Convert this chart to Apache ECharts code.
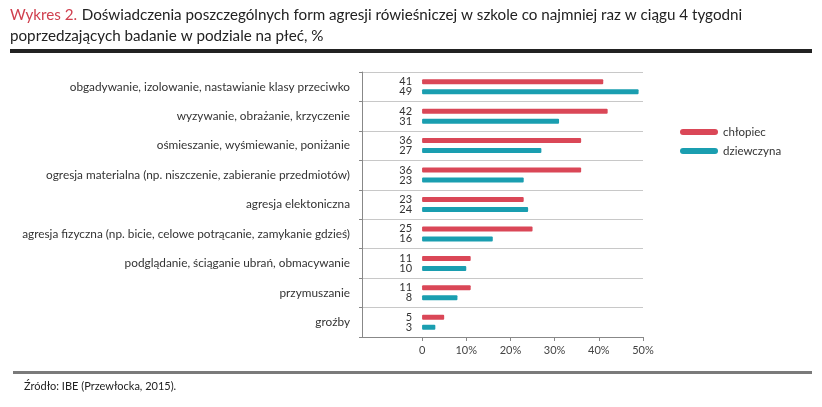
<!DOCTYPE html>
<html>
<head>
<meta charset="utf-8">
<script src="https://cdn.jsdelivr.net/npm/echarts@6/dist/echarts.min.js"></script>
<style>
  html, body { margin: 0; padding: 0; background: #fff; }
  #chart { width: 822px; height: 407px; }
</style>
</head>
<body>
<div id="chart"></div>
<script>
// data
const categories = [
    "obgadywanie, izolowanie, nastawianie klasy przeciwko",
    "wyzywanie, obrażanie, krzyczenie",
    "ośmieszanie, wyśmiewanie, poniżanie",
    "ogresja materialna (np. niszczenie, zabieranie przedmiotów)",
    "agresja elektoniczna",
    "agresja fizyczna (np. bicie, celowe potrącanie, zamykanie gdzieś)",
    "podglądanie, ściąganie ubrań, obmacywanie",
    "przymuszanie",
    "groźby"
];
const chlopiec = [41, 42, 36, 36, 23, 25, 11, 11, 5];
const dziewczyna = [49, 31, 27, 23, 24, 16, 10, 8, 3];
const xTicks = [0, 10, 20, 30, 40, 50];

const FONT = "Lato, 'Noto Sans', sans-serif";
const RED = "#da4757";
const TEAL = "#1a9eb0";
const legendIcon = "path://M3,0 L35,0 A3,3 0 0 1 35,6 L3,6 A3,3 0 0 1 3,0 Z";

let chart = echarts.init(document.getElementById("chart"));

function barSeries(name, data, color) {
    return {
        name: name,
        type: "bar",
        data: data,
        barWidth: 5,
        barGap: "100%",
        itemStyle: { color: color, borderRadius: 1 },
        label: {
            show: true,
            position: "left",
            distance: 10,
            color: "#333",
            fontSize: 11,
            fontFamily: FONT
        }
    };
}

chart.setOption({
    animation: false,
    backgroundColor: "#fff",
    title: {
        left: 5,
        top: 0,
        text: "{r|Wykres 2.} {d|Doświadczenia poszczególnych form agresji rówieśniczej w szkole co najmniej raz w ciągu 4 tygodni}\n{d|poprzedzających badanie w podziale na płeć, %}",
        textStyle: {
            fontFamily: FONT,
            fontWeight: "normal",
            rich: {
                r: { color: "#d0404f", fontSize: 15.2, fontFamily: FONT, lineHeight: 21 },
                d: { color: "#222", fontSize: 15.2, fontFamily: FONT, lineHeight: 21 }
            }
        }
    },
    graphic: [
        { type: "rect", shape: { x: 10, y: 49, width: 802, height: 4 }, style: { fill: "#222" } },
        { type: "rect", shape: { x: 13, y: 371, width: 799, height: 3 }, style: { fill: "#7a7a7a" } },
        {
            type: "text", left: 24, top: 381,
            style: { text: "Źródło: IBE (Przewłocka, 2015).", fill: "#222", fontSize: 11, fontFamily: FONT }
        }
    ],
    legend: {
        orient: "vertical",
        left: 675,
        top: 121,
        itemWidth: 38,
        itemHeight: 6,
        itemGap: 7,
        icon: legendIcon,
        textStyle: { color: "#333", fontSize: 11.5, fontFamily: FONT },
        data: ["chłopiec", "dziewczyna"]
    },
    grid: { left: 362, top: 72, right: 179, bottom: 70, containLabel: false },
    xAxis: {
        type: "value",
        min: -13.6,
        max: 50,
        axisLine: { show: true, lineStyle: { color: "#888", width: 1 } },
        axisTick: { show: true, length: 4, customValues: xTicks, lineStyle: { color: "#888" } },
        axisLabel: {
            customValues: xTicks,
            color: "#444",
            fontSize: 11,
            fontFamily: FONT,
            margin: 8,
            formatter: v => v === 0 ? "0" : v + "%"
        },
        splitLine: { show: false }
    },
    yAxis: {
        type: "category",
        inverse: true,
        data: categories,
        axisLine: { show: true, onZero: false, lineStyle: { color: "#888", width: 1 } },
        axisTick: { show: true, length: 3, lineStyle: { color: "#888" } },
        axisLabel: { color: "#333", fontSize: 11.8, fontFamily: FONT, margin: 12 },
        splitLine: { show: true, lineStyle: { color: "#c8c8c8", width: 1 } }
    },
    series: [
        barSeries("chłopiec", chlopiec, RED),
        barSeries("dziewczyna", dziewczyna, TEAL)
    ]
});
</script>
</body>
</html>
